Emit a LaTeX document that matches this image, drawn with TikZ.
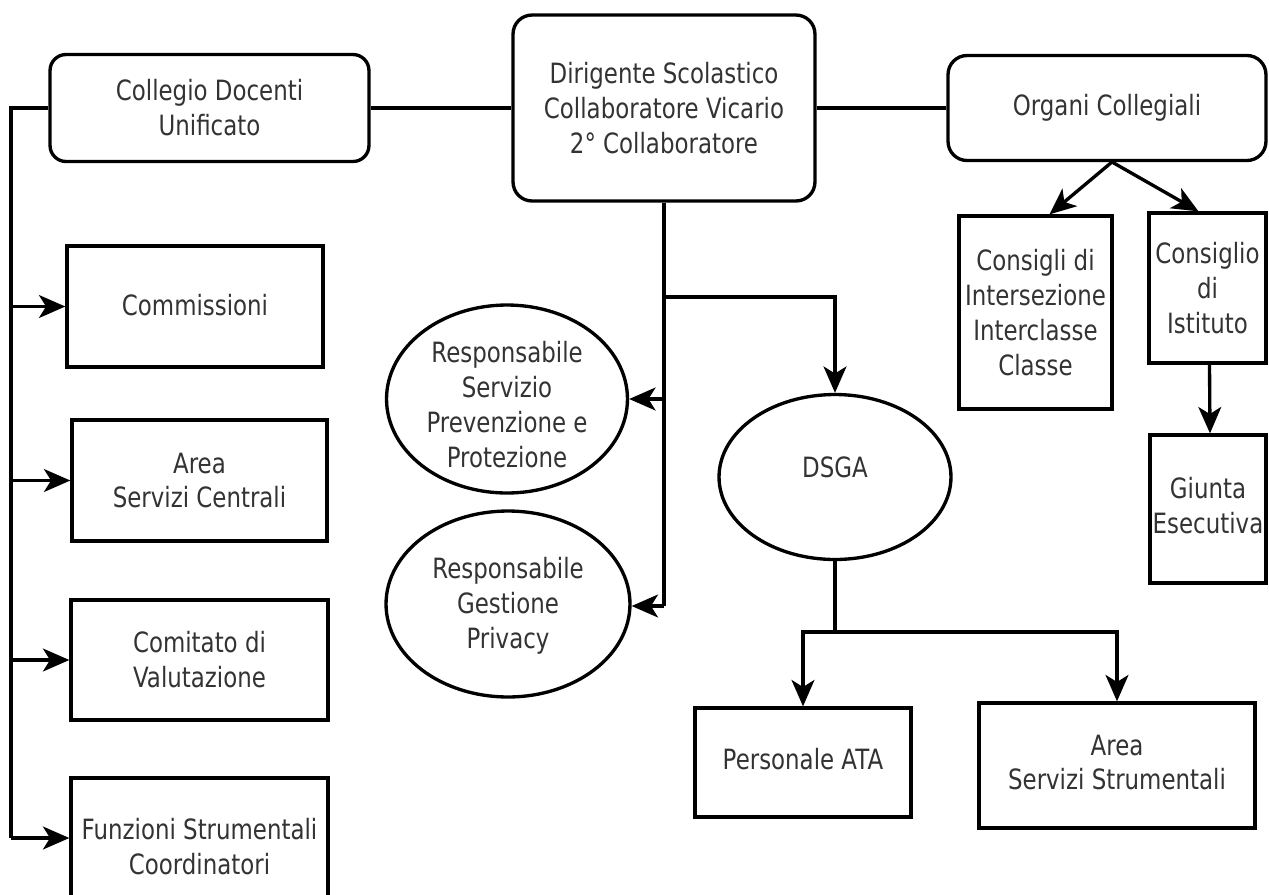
\documentclass[tikz,border=0pt]{standalone}
\usepackage{fontspec}
\setmainfont{DejaVu Sans}[FakeStretch=0.82]
\usetikzlibrary{shapes.geometric,arrows.meta,calc}
\begin{document}
\begin{tikzpicture}[x=0.02cm,y=-0.02cm,
  every node/.style={inner sep=0pt, align=center, text=black!80,
    font=\fontsize{15.9}{19.9}\selectfont},
  box/.style={draw=black, line width=1.9pt, rectangle},
  rbox/.style={box, rounded corners=0.38cm},
  oval/.style={draw=black, line width=1.9pt, ellipse},
  conn/.style={draw=black, line width=1.9pt},
  arr/.style={conn, -{Stealth[length=15pt,width=13pt,inset=4pt]}}]
\useasboundingbox (0,0) rectangle (1269,894);
\fill[white] (0,0) rectangle (1269,894);

% top row
\node[rbox, rounded corners=0.32cm, minimum width=6.38cm, minimum height=2.14cm] (coll) at (209.5,108) {Collegio Docenti\\Unificato};
\node[rbox, minimum width=6.04cm, minimum height=3.72cm] (dir) at (664,108) {Dirigente Scolastico\\Collaboratore Vicario\\2° Collaboratore};
\node[rbox, minimum width=6.36cm, minimum height=2.10cm] (org) at (1107,108) {Organi Collegiali};

% right column
\node[box, minimum width=3.06cm, minimum height=3.86cm] (cint) at (1035.5,312.5) {Consigli di\\Intersezione\\Interclasse\\Classe};
\node[box, minimum width=2.34cm, minimum height=3.00cm] (cist) at (1207.5,288) {Consiglio\\di\\Istituto};
\node[box, minimum width=2.32cm, minimum height=2.96cm] (giunta) at (1208,509) {\raisebox{-5pt}{\begin{tabular}{@{}c@{}}Giunta\\Esecutiva\end{tabular}}};

% left column
\node[box, minimum width=5.12cm, minimum height=2.42cm] (comm) at (195,306.5) {\raisebox{2pt}{Commissioni}};
\node[box, minimum width=5.10cm, minimum height=2.42cm] (asc) at (199.5,480.5) {Area\\Servizi Centrali};
\node[box, minimum width=5.14cm, minimum height=2.40cm] (comit) at (199.5,660) {Comitato di\\Valutazione};
\node[box, minimum width=5.14cm, minimum height=2.74cm] (funz) at (199.5,846.5) {Funzioni Strumentali\\Coordinatori};

% ellipses
\node[oval, minimum width=4.82cm, minimum height=3.76cm] (rspp) at (507,399) {};
\node (rsppt) at (507,405) {Responsabile\\Servizio\\Prevenzione e\\Protezione};
\node[oval, minimum width=4.88cm, minimum height=3.72cm] (rpriv) at (508,604) {};
\node (rprivt) at (508,606) {Responsabile\\Gestione\\Privacy};
\node[oval, minimum width=4.64cm, minimum height=3.30cm] (dsga) at (835,477) {};
\node (dsgat) at (835,467) {DSGA};

% bottom
\node[box, minimum width=4.32cm, minimum height=2.18cm] (pata) at (803,762.5) {\raisebox{4pt}{Personale ATA}};
\node[box, minimum width=5.52cm, minimum height=2.50cm] (ass) at (1117,765.5) {\raisebox{-3pt}{\begin{tabular}{@{}c@{}}Area\\Servizi Strumentali\end{tabular}}};

% connectors: top row
\draw[conn] (coll.east) -- (dir.west);
\draw[conn] (dir.east) -- (org.west);

% left trunk
\coordinate (tl) at (11,108);
\coordinate (fz) at (11,838);
\draw[conn] (coll.west) -- (tl) -- (fz);
\draw[arr] (tl |- comm.west) -- (comm.west);
\draw[arr] (tl |- asc.west) -- (asc.west);
\draw[arr] (tl |- comit.west) -- (comit.west);
\draw[arr] (fz) -- (fz -| funz.west);

% organi collegiali
\coordinate (oa) at (1112,162);
\draw[arr] (oa) -- ($(cint.north)+(14,0)$);
\draw[arr] (oa) -- ($(cist.north)+(-9,0)$);
\draw[arr] ($(cist.south)+(2,0)$) -- ($(giunta.north)+(2,0)$);

% dirigente stem
\coordinate (b1) at (664,297);
\coordinate (b2) at (664,399);
\coordinate (b3) at (664,606);
\draw[conn] (dir.south) -- (b3);
\draw[arr] (b1) -| (dsga.north);
\draw[arr] (b2) -- (rspp.east);
\draw[arr] (b3) -- (b3 -| rpriv.east);

% dsga branches
\coordinate (b4) at (835,632);
\draw[conn] (dsga.south) -- (b4);
\draw[arr] (b4) -| (pata.north);
\draw[arr] (b4) -| (ass.north);
\end{tikzpicture}
\end{document}
